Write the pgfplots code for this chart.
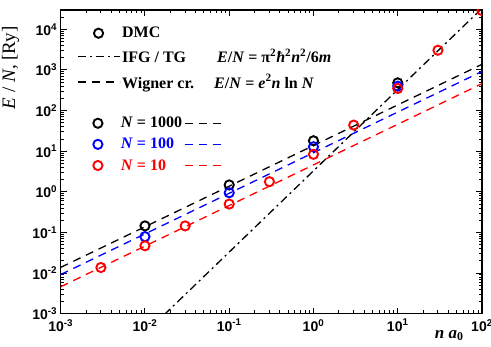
\documentclass[border=0pt]{standalone}
\usepackage{fontspec}
\setmainfont{Liberation Serif}
\setsansfont{Liberation Sans}
\usepackage{pgfplots}
\pgfplotsset{compat=1.18}
\newcommand{\tl}[1]{\textsf{\textbf{10\textsuperscript{#1}}}}
\tikzset{
  dmark/.style={only marks, mark=o, mark size=4.6bp, mark options={line width=1.9bp, solid}},
  wdash/.style={line width=1.3bp, dash pattern=on 8bp off 6bp},
  ifgdash/.style={line width=1.3bp, dash pattern=on 8bp off 4bp on 2bp off 4bp},
}
\pgfplotsset{
  circleg/.style={legend image code/.code={\path[draw=none, fill=none] (0bp,-1bp) rectangle (42bp,1bp); \draw[mark repeat=2,mark phase=2,##1] plot coordinates {(0bp,0bp)(21bp,0bp)(42bp,0bp)};}},
  dashleg/.style={legend image code/.code={\draw[##1] (0bp,0bp) -- (37bp,0bp);}},
}
\begin{document}
\begin{tikzpicture}
\begin{axis}[
  scale only axis, width=421.3bp, height=303.7bp,
  xmode=log, ymode=log,
  xmin=1e-3, xmax=1e2, ymin=1e-3, ymax=3e4,
  clip marker paths=true,
  xtick={1e-3,1e-2,1e-1,1,10,100},
  xticklabels={\tl{-3},\tl{-2},\tl{-1},\tl{0},\tl{1},\tl{2}},
  ytick={1e-3,1e-2,1e-1,1,10,100,1000,10000},
  yticklabels={\tl{-3},\tl{-2},\tl{-1},\tl{0},\tl{1},\tl{2},\tl{3},\tl{4}},
  minor xtick={2e-3,3e-3,4e-3,5e-3,6e-3,7e-3,8e-3,9e-3,2e-2,3e-2,4e-2,5e-2,6e-2,7e-2,8e-2,9e-2,0.2,0.3,0.4,0.5,0.6,0.7,0.8,0.9,2,3,4,5,6,7,8,9,20,30,40,50,60,70,80,90},
  minor ytick={2e-3,3e-3,4e-3,5e-3,6e-3,7e-3,8e-3,9e-3,2e-2,3e-2,4e-2,5e-2,6e-2,7e-2,8e-2,9e-2,0.2,0.3,0.4,0.5,0.6,0.7,0.8,0.9,2,3,4,5,6,7,8,9,20,30,40,50,60,70,80,90,200,300,400,500,600,700,800,900,2000,3000,4000,5000,6000,7000,8000,9000,20000},
  tick align=inside, major tick length=6bp, minor tick length=3.5bp,
  every tick/.style={black, line width=1bp},
  axis line style={line width=1.3bp},
  ticklabel style={font=\fontsize{14bp}{16bp}\selectfont},
  xticklabel style={yshift=-2bp},
  xlabel={\textbf{\textit{n a}\textsubscript{0}}},
  x label style={at={(axis description cs:0.922,0)}, anchor=north, yshift=-13bp, font=\fontsize{17bp}{19bp}\selectfont},
  ylabel={\textit{E} / \textit{N}, [Ry]},
  y label style={at={(axis description cs:0,0.81)}, anchor=south, rotate=0, yshift=38bp, font=\fontsize{19bp}{21bp}\selectfont},
  circleg,
  legend style={draw=none, fill=none, at={(axis description cs:0,1)}, anchor=north west, xshift=16bp, yshift=-15bp,
    inner sep=0pt, row sep=6bp, font=\fontsize{16bp}{18bp}\selectfont\bfseries},
  legend cell align=left,
]
% Wigner crystal lines E/N = 2 n ln N (Ry)
\addplot[black, wdash, forget plot] coordinates {(1e-3,0.0138)(100,1382)};
\addplot[blue, wdash, forget plot] coordinates {(1e-3,0.00921)(100,921)};
\addplot[red, wdash, forget plot] coordinates {(1e-3,0.00461)(100,461)};
% IFG / TG
\addplot[black, ifgdash, forget plot] coordinates {(1e-3,3.29e-6)(100,32899)};
% DMC points
\addplot[black, dmark, forget plot] coordinates {(0.01,0.145)(0.1,1.48)(1,18.1)(10,482)};
\addplot[blue, dmark, forget plot] coordinates {(0.01,0.079)(0.1,0.95)(1,12.9)(10,400)};
\addplot[red, dmark, forget plot] coordinates {(0.003,0.0137)(0.01,0.047)(0.03,0.145)(0.1,0.50)(0.3,1.78)(1,8.4)(3,44)(10,351)(30,3065)(100,29000)};
\addlegendimage{black, dmark}
\addlegendentry{DMC}
\addlegendimage{black, ifgdash}
\addlegendentry{\makebox[95bp][l]{IFG / TG}\textit{E}/\textit{N} = π\textsuperscript{2}\textit{ħ}\textsuperscript{2}\textit{n}\textsuperscript{2}/6\textit{m}}
\addlegendimage{black, wdash}
\addlegendentry{\makebox[92bp][l]{Wigner cr.}\textit{E}/\textit{N} = \textit{e}\textsuperscript{2}\textit{n} ln \textit{N}}
\end{axis}
\begin{axis}[
  scale only axis, width=421.3bp, height=303.7bp,
  xmode=log, ymode=log,
  xmin=1e-3, xmax=1e2, ymin=1e-3, ymax=3e4,
  hide axis,
  legend columns=2,
  legend style={draw=none, fill=none, at={(axis description cs:0,1)}, anchor=north west, xshift=16bp, yshift=-105bp,
    inner sep=0pt, row sep=5bp, font=\fontsize{16bp}{18bp}\selectfont\bfseries},
  legend cell align=left,
]
\addlegendimage{black, dmark, circleg}
\addlegendentry{\textit{N} = 1000}
\addlegendimage{black, wdash, dashleg}
\addlegendentry{}
\addlegendimage{blue, dmark, circleg}
\addlegendentry{\textcolor{blue}{\textit{N} = 100}}
\addlegendimage{blue, wdash, dashleg}
\addlegendentry{}
\addlegendimage{red, dmark, circleg}
\addlegendentry{\textcolor{red}{\textit{N} = 10}}
\addlegendimage{red, wdash, dashleg}
\addlegendentry{}
\end{axis}
\pgfresetboundingbox
\useasboundingbox ([xshift=-60.7bp,yshift=-33.3bp]current axis.south west) rectangle ([xshift=9bp,yshift=10bp]current axis.north east);
\end{tikzpicture}
\end{document}
